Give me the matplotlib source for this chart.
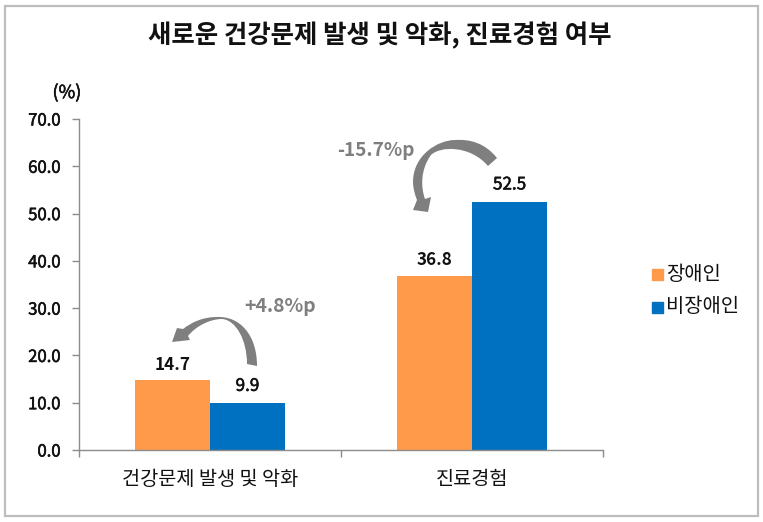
import matplotlib
matplotlib.use('Agg')
import matplotlib.pyplot as plt
import matplotlib.patheffects as pe
from matplotlib.patches import PathPatch, Rectangle
from matplotlib.path import Path
import numpy as np

plt.rcParams['font.family'] = ['Noto Sans CJK KR', 'DejaVu Sans']

# Dados do gráfico
categorias = ['건강문제 발생 및 악화', '진료경험']
series_nomes = ['장애인', '비장애인']
valores_dis = [14.7, 36.8]
valores_nao = [9.9, 52.5]
yticks = [0, 10, 20, 30, 40, 50, 60, 70]
titulo = '새로운 건강문제 발생 및 악화, 진료경험 여부'
dif_labels = ['+4.8%p', '-15.7%p']

LARGURA, ALTURA = 763, 522
COR_LARANJA = '#FF9A4A'
COR_AZUL = '#0070C0'
COR_SETA = '#7F7F7F'
COR_EIXO = '#8C8C8C'
# Traço fino para engrossar o texto regular
MEDIO = [pe.withStroke(linewidth=0.4, foreground='#111111')]


# Converte uma caixa em pixels da imagem para coordenadas da figura
def caixa_px(esq, topo, dir, base):
    return [esq / LARGURA, 1 - base / ALTURA, (dir - esq) / LARGURA, (base - topo) / ALTURA]


fig = plt.figure(figsize=(LARGURA / 100, ALTURA / 100), dpi=100)

# Camada em pixels para moldura, setas e textos soltos
fundo = fig.add_axes([0, 0, 1, 1])
fundo.set_xlim(0, LARGURA)
fundo.set_ylim(ALTURA, 0)
fundo.axis('off')
fundo.add_patch(Rectangle((4.5, 5.5), 753, 510, fill=False, ec='#BDBDBD', lw=1.6))

ax = fig.add_axes(caixa_px(79, 119, 603, 450))
ax.patch.set_alpha(0)
x = np.arange(len(categorias))
largura = 0.286
ax.bar(x - largura / 2, valores_dis, largura, color=COR_LARANJA)
ax.bar(x + largura / 2, valores_nao, largura, color=COR_AZUL)
ax.set_xlim(-0.5, 1.5)
ax.set_ylim(0, 70)

ax.set_yticks(yticks)
ax.set_yticklabels([f'{v:.1f}' for v in yticks], fontsize=12, color='#111111', path_effects=MEDIO)
ax.set_xticks([-0.5, 0.5, 1.5])
ax.set_xticklabels([])
ax.tick_params(axis='both', direction='out', length=5, width=1, color=COR_EIXO)
ax.tick_params(axis='y', pad=8)
for lado in ['top', 'right']:
    ax.spines[lado].set_visible(False)
for lado in ['left', 'bottom']:
    ax.spines[lado].set_color(COR_EIXO)
    ax.spines[lado].set_linewidth(1)

# Nomes das categorias
for i, nome in enumerate(categorias):
    ax.annotate(nome, (i, 0), xytext=(0, -29), xycoords='data', textcoords='offset points',
                ha='center', va='bottom', fontsize=14.2, color='#111111')

# Valores em cima das barras
for i in range(len(categorias)):
    ax.annotate(f'{valores_dis[i]:.1f}', (i - largura / 2, valores_dis[i]), xytext=(0, 5),
                textcoords='offset points', ha='center', va='bottom', fontsize=12.3, fontweight='bold', color='#111111')
    ax.annotate(f'{valores_nao[i]:.1f}', (i + largura / 2, valores_nao[i]), xytext=(0, 6),
                textcoords='offset points', ha='center', va='bottom', fontsize=12.3, color='#111111', path_effects=MEDIO)

fundo.text(380, 36, titulo, ha='center', va='center', fontsize=18.3, fontweight='bold', color='#111111')
fundo.text(67, 93, '(%)', ha='center', va='center', fontsize=13, color='#111111', path_effects=MEDIO)

# Diferenças em cinza
fundo.text(280, 307, dif_labels[0], ha='center', va='center', fontsize=14, fontweight='bold', color=COR_SETA)
fundo.text(376, 150, dif_labels[1], ha='center', va='center', fontsize=13.7, fontweight='bold', color=COR_SETA)


# Seta curva preenchida
def desenhar_seta(pontos, codigos):
    fundo.add_patch(PathPatch(Path(pontos, codigos), fc=COR_SETA, ec='none', zorder=5))


M, C, L, Z = Path.MOVETO, Path.CURVE4, Path.LINETO, Path.CLOSEPOLY
desenhar_seta(
    [(257, 366), (257, 335), (240, 316), (217, 317), (203, 317), (192, 322), (183, 329),
     (177, 328), (172, 342), (190, 340), (188, 336), (196, 326), (210, 319), (222, 319),
     (236, 320), (247, 340), (247, 364), (257, 366)],
    [M, C, C, C, C, C, C, L, L, L, L, C, C, C, C, C, C, Z])
desenhar_seta(
    [(497, 158), (485, 143), (470, 139), (455, 140), (438, 140), (413, 155), (413, 182),
     (413, 188), (415, 195), (417, 200), (413, 210), (428, 212), (431, 197), (425, 199),
     (421, 188), (420, 170), (431, 155), (440, 146), (470, 145), (488, 166), (497, 158)],
    [M, C, C, C, C, C, C, C, C, C, L, L, L, L, C, C, C, C, C, C, Z])

# Legenda
cores_legenda = [COR_LARANJA, COR_AZUL]
for nome, cor, y_px in zip(series_nomes, cores_legenda, [274, 307]):
    fundo.add_patch(Rectangle((652, y_px - 5), 11, 11, color=cor))
    fundo.text(666, y_px, nome, ha='left', va='center', fontsize=14.3, color='#111111')

fig.savefig('out.png', dpi=100)
